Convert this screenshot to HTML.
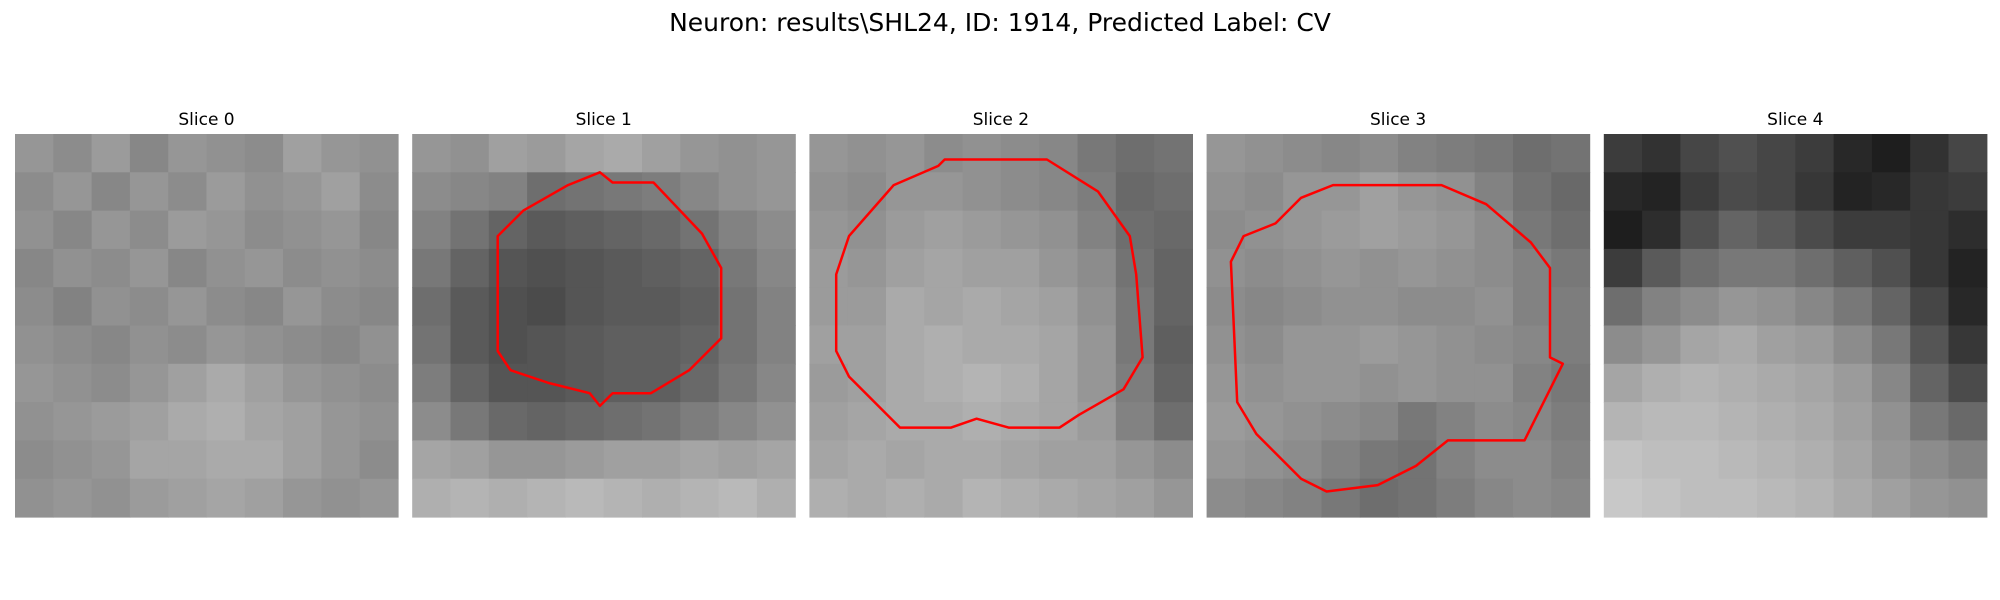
<!DOCTYPE html>
<html><head><meta charset="utf-8"><style>
html,body{margin:0;padding:0;background:#fff;width:2000px;height:600px;overflow:hidden}
svg{display:block;font-family:"DejaVu Sans","Liberation Sans",sans-serif}
</style></head><body>
<svg id="chart" width="2000" height="600">
<text x="1000" y="31" text-anchor="middle" font-size="25" fill="#000">Neuron: results\SHL24, ID: 1914, Predicted Label: CV</text>
</svg>
<script>
const sliceTitles = ["Slice 0","Slice 1","Slice 2","Slice 3","Slice 4"];
const gridN = 10;
const slice0 = [
[150,140,155,135,150,145,140,160,150,145],
[140,150,135,150,140,155,145,150,160,140],
[145,135,150,140,155,150,140,145,150,135],
[135,145,140,150,135,145,150,140,145,140],
[140,130,145,140,150,140,135,150,140,135],
[145,140,135,145,140,150,145,140,135,145],
[150,145,140,150,160,170,160,150,145,140],
[145,150,155,160,170,175,165,160,150,145],
[140,145,150,165,165,170,170,160,150,140],
[145,150,145,155,160,165,160,150,145,150]];
const slice1 = [
[150,145,160,155,165,170,160,150,145,150],
[140,135,130,110,115,120,125,135,145,150],
[130,115,100,90,95,100,105,115,130,140],
[120,100,85,80,85,90,95,100,120,135],
[110,90,80,75,85,90,90,95,115,130],
[115,90,80,85,90,95,95,100,115,130],
[125,100,85,85,90,95,95,105,120,135],
[140,120,105,100,105,110,115,125,135,145],
[165,160,150,150,155,160,160,165,160,165],
[175,180,175,180,185,180,175,180,185,175]];
const slice2 = [
[150,145,150,140,145,140,135,120,110,115],
[145,140,150,150,145,140,135,125,105,110],
[150,145,155,160,155,150,145,130,110,105],
[155,150,160,165,160,160,150,140,115,100],
[155,155,170,165,170,165,160,145,120,100],
[160,160,170,175,170,170,165,150,120,95],
[155,160,170,175,180,175,165,150,125,100],
[160,165,170,170,175,170,165,155,130,110],
[165,170,165,170,170,165,160,160,150,140],
[175,170,175,170,180,175,170,165,160,150]];
const slice3 = [
[150,145,140,135,140,130,125,120,110,115],
[145,140,150,150,160,150,145,130,115,105],
[140,145,150,155,160,155,150,140,120,110],
[145,140,145,150,145,150,145,140,130,120],
[140,135,140,145,145,140,140,145,130,125],
[145,140,150,150,155,150,145,140,135,125],
[150,145,150,150,145,150,145,145,130,120],
[155,150,145,140,135,120,130,140,135,125],
[150,145,140,130,120,115,130,140,140,130],
[140,135,130,120,110,115,125,135,140,135]];
const slice4 = [
[60,50,70,80,70,60,40,30,50,70],
[40,35,60,75,70,55,35,40,55,60],
[30,45,80,100,90,75,60,60,55,45],
[60,90,110,120,120,110,95,80,55,35],
[110,130,140,150,145,135,120,100,70,40],
[140,150,165,170,160,155,140,120,85,55],
[165,175,180,175,170,165,155,135,100,75],
[180,185,185,180,175,170,160,145,120,105],
[195,190,190,185,180,175,165,150,140,130],
[200,195,190,190,185,180,170,160,150,145]];
const sliceGrids = [slice0,slice1,slice2,slice3,slice4];
const contour1X = [14.7,15.7,18.9,22.7,24.2,24.2,21.7,18.7,15.7,14.7,13.9,10.7,7.7,6.7,6.7,8.7,12.2];
const contour1Y = [3,3.8,3.8,7.8,10.5,16,18.5,20.3,20.3,21.3,20.3,19.5,18.5,17,8,6,4];
const contour2X = [10.6,18.6,22.6,25.1,25.6,26.1,24.6,21.1,19.6,15.6,13.1,11.1,7.1,3.1,2.1,2.1,3.1,6.6,10.1];
const contour2Y = [2,2,4.5,8,11,17.5,20,22,23,23,22.3,23,23,19,17,11,8,4,2.5];
const contour3X = [9.9,18.4,21.9,25.4,26.9,26.9,27.9,24.9,18.9,16.4,13.4,9.4,7.4,3.9,2.4,1.9,2.9,5.4,7.4];
const contour3Y = [4,4,5.5,8.5,10.5,17.5,18,24,24,26,27.5,28,27,23.5,21,10,8,7,5];
const contours = [null,[contour1X,contour1Y],[contour2X,contour2Y],[contour3X,contour3Y],null];

const NS="http://www.w3.org/2000/svg";
const svg=document.getElementById('chart');
const panelX0=15, panelStep=397.2, panelY=134, panelSize=383;
function xPix(i,v){return panelX0+i*panelStep+v/30*panelSize;}
function yPix(v){return panelY+v/30*panelSize;}
sliceTitles.forEach((t,i)=>{
  const g=document.createElementNS(NS,'g');
  
  
  svg.appendChild(g);
  const grid=sliceGrids[i];
  const cs=panelSize/gridN;
  for(let r=0;r<gridN;r++)for(let c=0;c<gridN;c++){
    const v=grid[r][c];
    const rc=document.createElementNS(NS,'rect');
    rc.setAttribute('x',(panelX0+i*panelStep+c*cs).toFixed(2));
    rc.setAttribute('y',(panelY+r*cs).toFixed(2));
    rc.setAttribute('width',(cs+0.6).toFixed(2));
    rc.setAttribute('height',(cs+0.6).toFixed(2));
    rc.setAttribute('fill',`rgb(${v},${v},${v})`);
    
    
    g.appendChild(rc);
  }
  const tx=document.createElementNS(NS,'text');
  tx.setAttribute('x',panelX0+i*panelStep+panelSize/2);
  tx.setAttribute('y',125);
  tx.setAttribute('text-anchor','middle');
  tx.setAttribute('font-size','17');
  tx.textContent=t;
  
  
  svg.appendChild(tx);
  const ct=contours[i];
  if(ct){
    const pts=ct[0].map((x,k)=>xPix(i,x).toFixed(1)+','+yPix(ct[1][k]).toFixed(1)).join(' ');
    const pg=document.createElementNS(NS,'polygon');
    pg.setAttribute('points',pts);
    pg.setAttribute('fill','none');
    pg.setAttribute('stroke','#ff0000');
    pg.setAttribute('stroke-width','2.5');
    pg.setAttribute('stroke-linejoin','round');
    
    
    svg.appendChild(pg);
  }
});
</script>
</body></html>
